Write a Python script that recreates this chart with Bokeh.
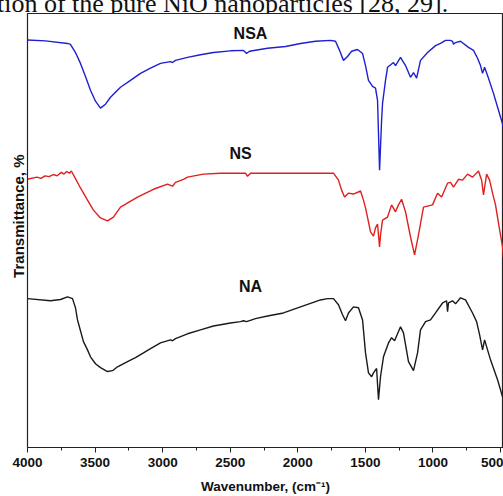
from bokeh.plotting import figure
from bokeh.models import Range1d, FixedTicker, Title, ColumnDataSource, Div
from bokeh.layouts import column
from bokeh.embed import file_html
from bokeh.resources import INLINE
from bokeh.core.properties import value

# ---- data ----
nsa_wn = [4000, 3867, 3704, 3682, 3645, 3608, 3571, 3534, 3497, 3460, 3423, 3386, 3312, 3238, 3164, 3090,
          3016, 2942, 2927, 2905, 2816, 2720, 2624, 2498, 2402, 2379, 2357, 2224, 2091, 1980, 1869, 1758,
          1721, 1691, 1662, 1632, 1602, 1558, 1521, 1499, 1477, 1447, 1425, 1410, 1395, 1380, 1373, 1351,
          1336, 1292, 1277, 1240, 1203, 1166, 1144, 1121, 1092, 1040, 981, 944, 907, 870, 855, 848, 833,
          796, 737, 700, 670, 648, 633, 618, 589, 552, 515, 478]
nsa_t = [93.9, 93.7, 93.1, 92.9, 91.0, 88.5, 85.5, 82.3, 79.8, 78.2, 79.1, 80.7, 83.0, 84.6, 86.2, 87.4,
         88.5, 88.9, 88.7, 89.2, 89.9, 90.5, 91.0, 91.4, 91.5, 90.8, 91.3, 92.0, 92.4, 93.1, 93.6, 93.8,
         93.6, 91.5, 89.2, 90.1, 91.3, 91.7, 90.8, 88.0, 84.6, 83.2, 82.8, 80.0, 63.9, 75.4, 79.3, 84.6,
         87.6, 88.7, 88.0, 89.9, 88.0, 85.3, 86.4, 85.1, 89.2, 91.0, 92.6, 93.1, 93.8, 93.8, 93.6, 92.9, 93.3,
         93.6, 92.2, 91.5, 89.7, 88.0, 86.2, 87.6, 85.1, 81.6, 77.7, 73.8]

ns_wn = [4000, 3930, 3900, 3870, 3840, 3810, 3780, 3750, 3730, 3710, 3690, 3675, 3660, 3608, 3556, 3512,
         3460, 3408, 3364, 3312, 3186, 3068, 2964, 2927, 2905, 2846, 2816, 2698, 2572, 2387, 2372, 2350,
         1980, 1736, 1699, 1676, 1654, 1625, 1588, 1536, 1514, 1499, 1477, 1462, 1440, 1425, 1410, 1395,
         1388, 1373, 1336, 1306, 1277, 1255, 1232, 1203, 1166, 1136, 1107, 1070, 1003, 966, 936, 892,
         870, 848, 811, 781, 744, 707, 663, 640, 626, 603, 581, 559, 537, 515, 485, 478]
ns_t = [61.8, 62.3, 62.0, 62.6, 62.4, 62.9, 62.6, 63.4, 63.0, 63.6, 63.2, 63.7, 62.8, 59.8, 57.0, 54.7,
        52.9, 52.2, 53.1, 55.4, 57.7, 59.5, 60.7, 60.2, 61.1, 61.8, 62.3, 63.0, 63.2, 63.2, 62.5, 63.2,
        63.2, 63.2, 61.6, 59.3, 57.7, 58.6, 58.4, 59.1, 57.0, 55.2, 52.0, 49.7, 48.7, 50.6, 51.5, 46.2,
        49.0, 52.4, 53.1, 55.9, 54.3, 55.9, 57.2, 54.3, 48.5, 44.4, 49.0, 55.4, 55.9, 58.6, 57.7, 60.9,
        61.1, 60.0, 61.8, 61.6, 63.0, 62.3, 63.7, 61.6, 58.2, 63.0, 61.6, 58.6, 55.9, 51.7, 46.2, 43.7]

na_wn = [4000, 3830, 3756, 3704, 3667, 3645, 3630, 3608, 3586, 3556, 3534, 3497, 3460, 3408, 3371, 3334,
         3260, 3201, 3142, 3090, 3016, 2942, 2927, 2905, 2816, 2720, 2624, 2498, 2424, 2402, 2379, 2313,
         2224, 2106, 1980, 1832, 1780, 1736, 1699, 1669, 1647, 1625, 1588, 1551, 1521, 1499, 1477, 1454,
         1440, 1417, 1403, 1388, 1366, 1329, 1306, 1284, 1240, 1218, 1181, 1144, 1114, 1092, 1055, 1018,
         981, 929, 899, 892, 885, 855, 833, 796, 759, 707, 677, 655, 633, 618, 574, 522, 485]
na_t = [34.3, 33.8, 34.1, 34.7, 34.3, 32.2, 29.4, 26.9, 24.4, 22.5, 20.9, 19.3, 18.4, 17.5, 17.7, 18.6,
        19.8, 20.7, 21.8, 22.8, 24.1, 24.8, 24.6, 25.1, 26.2, 27.1, 28.0, 28.7, 29.0, 29.2, 29.0, 29.7,
        30.3, 31.0, 32.4, 34.0, 34.3, 34.3, 32.9, 30.6, 29.2, 31.0, 32.4, 32.2, 29.4, 21.8, 17.2, 16.3,
        17.2, 18.2, 11.0, 16.3, 20.9, 24.1, 25.3, 24.6, 27.8, 26.4, 19.8, 17.7, 21.8, 27.1, 29.0, 29.4,
        31.0, 33.3, 33.8, 31.3, 33.3, 33.8, 33.1, 34.5, 34.0, 31.0, 29.0, 26.0, 22.5, 24.8, 20.2, 15.6, 11.7]

series_names = ["NSA", "NS", "NA"]
series_colors = ["#1f1fd2", "#e01f1f", "#1a1a1a"]
label_wn = [2350, 2424, 2350]
label_t = [95.3, 67.7, 37.2]

x_ticks = [4000, 3500, 3000, 2500, 2000, 1500, 1000, 500]
x_minor = [3750, 3250, 2750, 2250, 1750, 1250, 750]

caption = "tion of the pure NiO nanoparticles [28, 29]."

FONT = "Liberation Sans"

fig = figure(width=503, height=483, output_backend="svg", toolbar_location=None,
             x_range=Range1d(4000, 478), y_range=Range1d(0, 100),
             min_border_left=27, min_border_right=0, min_border_top=0, min_border_bottom=48,
             margin=0)
fig.outline_line_color = "#222222"
fig.outline_line_width = 1.2
fig.xgrid.visible = False
fig.ygrid.visible = False
fig.background_fill_color = "white"
fig.border_fill_color = "white"

for wn, t, c in zip([nsa_wn, ns_wn, na_wn], [nsa_t, ns_t, na_t], series_colors):
    fig.line(wn, t, line_color=c, line_width=1.4)

src = ColumnDataSource(dict(x=label_wn, y=label_t, text=series_names))
fig.text(x="x", y="y", text="text", source=src, text_align="center", text_baseline="middle",
         text_font=value(FONT), text_font_style="bold", text_font_size="16px", text_color="#111111")

fig.yaxis.visible = False

xa = fig.xaxis[0]
xa.ticker = FixedTicker(ticks=x_ticks, minor_ticks=x_minor)
xa.axis_line_color = "#222222"
xa.axis_line_width = 1.2
xa.major_tick_in = 0
xa.major_tick_out = 5
xa.minor_tick_in = 0
xa.minor_tick_out = 3
xa.major_tick_line_color = "#222222"
xa.minor_tick_line_color = "#222222"
xa.major_label_text_font = FONT
xa.major_label_text_font_style = "bold"
xa.major_label_text_font_size = "13.5px"
xa.major_label_text_color = "#111111"
xa.major_label_standoff = 5
xa.axis_label = "Wavenumber, (cm\u207b\u00b9)"
xa.axis_label_text_font = FONT
xa.axis_label_text_font_style = "bold"
xa.axis_label_text_font_size = "13.5px"
xa.axis_label_text_color = "#111111"
xa.axis_label_text_line_height = 0.6
xa.axis_label_standoff = 9

fig.add_layout(Title(text="Transmittance, %", align="right", offset=141, standoff=2,
                     text_font=FONT, text_font_style="bold", text_font_size="15px",
                     text_color="#111111"), "left")

cap = Div(text='<div style="font-family: \'Liberation Serif\'; font-size: 26px; line-height: 26px; '
               'white-space: nowrap; margin-top: -13px; margin-left: -3px; color: #111;">'
               + caption + '</div>',
          width=503, height=13, margin=0, styles={"overflow": "hidden"})

p = column(cap, fig, spacing=0, margin=0)

open("out.html", "w").write(file_html(p, INLINE))
